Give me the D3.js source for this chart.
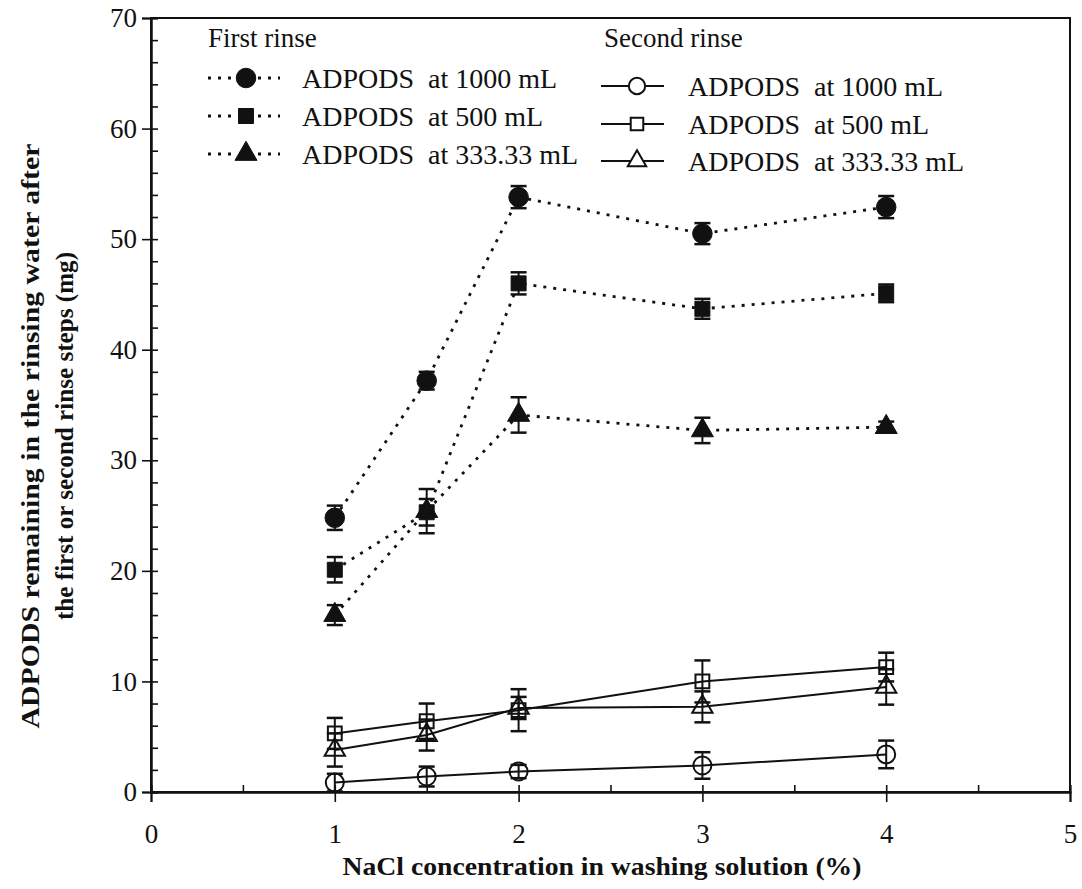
<!DOCTYPE html>
<html>
<head>
<meta charset="utf-8">
<script src="https://cdn.jsdelivr.net/npm/d3@7"></script>
<style>
  body { margin: 0; background: #fff; }
  svg text { font-family: "Liberation Serif", "DejaVu Serif", serif; fill: #111; }
</style>
</head>
<body>
<div id="chart"></div>
<script>
// NaCl concentration (%)
const concentrations = [1, 1.5, 2, 3, 4];

// First rinse (mg), with error
const first1000 = [24.8, 37.2, 53.8, 50.5, 52.9];
const first1000Err = [1.1, 0.8, 1.0, 0.95, 1.0];
const first500 = [20.1, 25.3, 46.0, 43.7, 45.1];
const first500Err = [1.15, 1.2, 1.0, 0.9, 0.8];
const first333 = [16.0, 25.4, 34.1, 32.7, 33.0];
const first333Err = [0.9, 2.0, 1.6, 1.15, 0.5];

// Second rinse (mg), with error
const second1000 = [0.85, 1.4, 1.85, 2.4, 3.4];
const second1000Err = [0.8, 0.9, 0.6, 1.2, 1.25];
const second500 = [5.3, 6.4, 7.4, 10.0, 11.3];
const second500Err = [1.4, 1.6, 1.9, 1.9, 1.3];
const second333 = [3.8, 5.15, 7.6, 7.7, 9.5];
const second333Err = [1.5, 1.4, 1.0, 1.4, 1.6];

const xTicks = [0, 1, 2, 3, 4, 5];
const yTicks = [0, 10, 20, 30, 40, 50, 60, 70];

const seriesLabels = ['ADPODS  at 1000 mL', 'ADPODS  at 500 mL', 'ADPODS  at 333.33 mL'];

const W = 1082, H = 889;
const margin = { top: 18, right: 12, bottom: 97, left: 151 };
const width = W - margin.left - margin.right;
const height = H - margin.top - margin.bottom;

const svg = d3.select('#chart').append('svg')
    .attr('width', W)
    .attr('height', H);

const g = svg.append('g')
    .attr('transform', `translate(${margin.left},${margin.top})`);

const x = d3.scaleLinear().domain([0, 5]).range([0, width]);
const y = d3.scaleLinear().domain([0, 70]).range([height, 0]);

const shapes = [d3.symbolCircle, d3.symbolSquare, d3.symbolTriangle];
const sizes = [300, 225, 210];

const series = [
    { values: first1000, err: first1000Err, shape: 0, filled: true },
    { values: first500, err: first500Err, shape: 1, filled: true },
    { values: first333, err: first333Err, shape: 2, filled: true },
    { values: second1000, err: second1000Err, shape: 0, filled: false },
    { values: second500, err: second500Err, shape: 1, filled: false },
    { values: second333, err: second333Err, shape: 2, filled: false }
];

// Frame (top and right edges)
g.append('rect')
    .attr('width', width)
    .attr('height', height)
    .attr('fill', 'none')
    .attr('stroke', '#111')
    .attr('stroke-width', 2);

// Y axis: outward major ticks with labels, inward minor ticks
g.append('g')
    .call(d3.axisLeft(y).tickValues(yTicks).tickSize(9).tickPadding(5).tickFormat(d3.format('d')));
g.append('g')
    .call(d3.axisRight(y).tickValues(d3.range(0, 71, 2)).tickSize(7).tickFormat(''));

// X axis: outward major ticks with labels, inward minor ticks
g.append('g')
    .attr('transform', `translate(0,${height})`)
    .call(d3.axisBottom(x).tickValues(xTicks).tickSize(10).tickPadding(22).tickFormat(d3.format('d')));
g.append('g')
    .attr('transform', `translate(0,${height})`)
    .call(d3.axisTop(x).tickValues(d3.range(0, 5.01, 0.5)).tickSize(7).tickFormat(''));

g.selectAll('.domain').attr('stroke', '#111').attr('stroke-width', 2);
g.selectAll('.tick line').attr('stroke', '#111').attr('stroke-width', 1.6);
g.selectAll('.tick text')
    .style('font-family', '"Liberation Serif", "DejaVu Serif", serif')
    .attr('font-size', '27px')
    .attr('fill', '#111');

// Axis titles
svg.append('text')
    .attr('x', 602)
    .attr('y', 875)
    .attr('text-anchor', 'middle')
    .attr('font-size', '25px')
    .attr('font-weight', 'bold')
    .attr('textLength', 519)
    .attr('lengthAdjust', 'spacingAndGlyphs')
    .text('NaCl concentration in washing solution (%)');

svg.append('text')
    .attr('transform', 'translate(39,436) rotate(-90)')
    .attr('text-anchor', 'middle')
    .attr('font-size', '25px')
    .attr('font-weight', 'bold')
    .attr('textLength', 585)
    .attr('lengthAdjust', 'spacingAndGlyphs')
    .text('ADPODS remaining in the rinsing water after');

svg.append('text')
    .attr('transform', 'translate(73,436) rotate(-90)')
    .attr('text-anchor', 'middle')
    .attr('font-size', '25px')
    .attr('font-weight', 'bold')
    .attr('textLength', 368)
    .attr('lengthAdjust', 'spacingAndGlyphs')
    .text('the first or second rinse steps (mg)');

// Lines
const line = d3.line()
    .x((d, i) => x(concentrations[i]))
    .y(d => y(d));

series.forEach(s => {
    g.append('path')
        .datum(s.values)
        .attr('d', line)
        .attr('fill', 'none')
        .attr('stroke', '#111')
        .attr('stroke-width', s.filled ? 2.8 : 2)
        .attr('stroke-dasharray', s.filled ? '3,7' : null);
});

// Error bars
const cap = 8;
series.forEach(s => {
    const eb = g.append('g').attr('stroke', '#111').attr('stroke-width', 2);
    s.values.forEach((v, i) => {
        const cx = x(concentrations[i]);
        const top = y(v + s.err[i]);
        const bot = y(v - s.err[i]);
        eb.append('line').attr('x1', cx).attr('x2', cx).attr('y1', top).attr('y2', bot);
        eb.append('line').attr('x1', cx - cap).attr('x2', cx + cap).attr('y1', top).attr('y2', top)
            .attr('stroke-width', 2.5);
        eb.append('line').attr('x1', cx - cap).attr('x2', cx + cap).attr('y1', bot).attr('y2', bot)
            .attr('stroke-width', 2.5);
    });
});

// Markers
series.forEach(s => {
    g.selectAll(null)
        .data(s.values)
        .join('path')
        .attr('transform', (d, i) => `translate(${x(concentrations[i])},${y(d)})`)
        .attr('d', d3.symbol().type(shapes[s.shape]).size(s.filled ? sizes[s.shape] : sizes[s.shape] * 0.85))
        .attr('fill', s.filled ? '#111' : 'none')
        .attr('stroke', '#111')
        .attr('stroke-width', s.filled ? 1 : 2);
});

// Legend
function drawLegend(gx, gy, title, filled, lineFrom, lineTo, markX, textX, rowY) {
    const lg = svg.append('g');
    lg.append('text')
        .attr('x', gx)
        .attr('y', gy)
        .attr('font-size', '27px')
        .text(title);
    seriesLabels.forEach((label, i) => {
        const cy = rowY[i];
        lg.append('line')
            .attr('x1', lineFrom).attr('x2', lineTo)
            .attr('y1', cy).attr('y2', cy)
            .attr('stroke', '#111')
            .attr('stroke-width', filled ? 2.8 : 2)
            .attr('stroke-dasharray', filled ? '3,7' : null);
        if (filled) {
            // gap around the marker
            lg.append('rect')
                .attr('x', markX - 12).attr('y', cy - 4)
                .attr('width', 24).attr('height', 8)
                .attr('fill', '#fff');
        }
        lg.append('path')
            .attr('transform', `translate(${markX},${cy})`)
            .attr('d', d3.symbol().type(shapes[i]).size(filled ? sizes[i] : sizes[i] * 0.7))
            .attr('fill', filled ? '#111' : '#fff')
            .attr('stroke', '#111')
            .attr('stroke-width', filled ? 1 : 2);
        lg.append('text')
            .attr('x', textX)
            .attr('y', cy)
            .attr('dy', '0.35em')
            .attr('font-size', '28px')
            .style('white-space', 'pre')
            .text(label);
    });
}

drawLegend(208, 47, 'First rinse', true, 208, 280, 246, 302, [78, 116, 154]);
drawLegend(604, 47, 'Second rinse', false, 601, 664, 637, 688, [86, 124, 161]);
</script>
</body>
</html>
